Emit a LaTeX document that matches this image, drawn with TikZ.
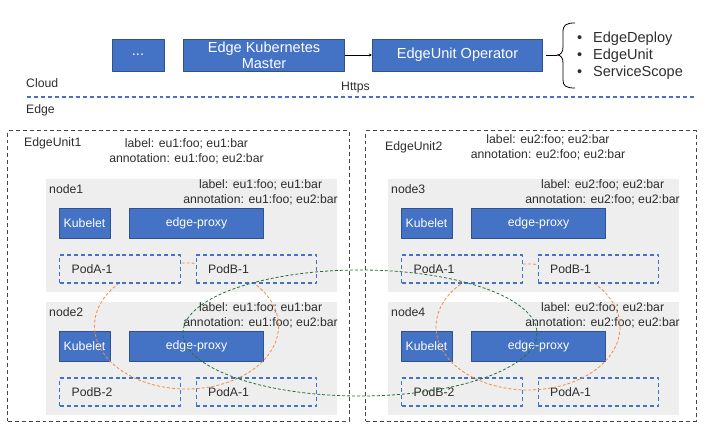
\documentclass[tikz,border=0pt]{standalone}
\usepackage{fontspec}
\setmainfont{Liberation Sans}
\usetikzlibrary{arrows.meta}
\pgfdeclarelayer{bg}
\pgfsetlayers{bg,main}
\definecolor{boxblue}{RGB}{68,114,196}
\definecolor{boxline}{RGB}{47,82,143}
\definecolor{hostgray}{RGB}{238,238,238}
\definecolor{txtgray}{RGB}{45,45,45}
\definecolor{linkorange}{RGB}{240,140,70}
\definecolor{linkgreen}{RGB}{40,110,55}
\definecolor{unitgray}{RGB}{70,70,70}
% one edge host: name, x, y (top left corner), first pod, second pod, label, annotation
\newcommand{\edgehost}[7]{%
  \begin{pgfonlayer}{bg}
  \node[host] (#1) at (#2+146.5,#3+56.5) {};
  \end{pgfonlayer}
  \node[txt,anchor=west] (#1-name) at (#2+4,#3+10) {#1};
  \node[txt,anchor=east,align=center] (#1-meta) at (#2+293,#3+13) {label: #6\\annotation: #7};
  \node[bluebox,minimum width=51,minimum height=30] (#1-kubelet) at (#2+39.5,#3+44) {Kubelet};
  \node[bluebox,minimum width=135,minimum height=30] (#1-proxy) at (#2+151.5,#3+44) {edge-proxy};
  \node[pod] (#1-poda) at (#2+75,#3+90) {#4};
  \node[pod] (#1-podb) at (#2+211.5,#3+90) {#5};
}
\begin{document}
\begin{tikzpicture}[x=1bp,y=-1bp,line join=round,>=Stealth,
  font=\fontsize{12.3}{15}\selectfont,text=txtgray,
  txt/.style={inner sep=0pt},
  bluebox/.style={draw=boxline,line width=0.8pt,fill=boxblue,text=white,inner sep=0pt},
  master/.style={bluebox,minimum height=32,align=center,font=\fontsize{14.6}{16}\selectfont},
  host/.style={fill=hostgray,minimum width=293,minimum height=113,inner sep=0pt},
  pod/.style={draw=boxblue,line width=1.2pt,dash pattern=on 4pt off 3pt,fill=hostgray,
    minimum height=28,text width=97,inner xsep=12pt,align=left},
  eubox/.style={draw=unitgray,line width=1.3pt,dash pattern=on 4pt off 3pt,inner sep=0pt},
  group/.style={line width=0.8pt,dash pattern=on 3pt off 2pt}]
\useasboundingbox (0,0) rectangle (720,442);

% cloud side
\node[master,minimum width=52] (dots) at (138,55) {...};
\node[master,minimum width=162] (master) at (264,55) {Edge Kubernetes\\Master};
\node[master,minimum width=171] (operator) at (457.5,55) {EdgeUnit Operator};
\draw[->,line width=0.8pt,>={Stealth[length=3pt,width=3pt]}] (master) -- (operator);
\coordinate (tip) at (557,55);
\draw[line width=0.8pt] (575,23) .. controls (566,23) and (563,25) .. (563,32) -- (563,47)
  .. controls (563,52) and (561,55) .. (tip) .. controls (561,55) and (563,58) .. (563,63)
  -- (563,80) .. controls (563,86) and (566,88) .. (575,88);
\draw[line width=0.8pt] ([xshift=3pt]operator.east) -- (tip);
\node[txt,anchor=west,align=left,font=\fontsize{14.6}{17}\selectfont] (crds) at (577,56)
  {\makebox[16pt][l]{\textbullet}EdgeDeploy\\\makebox[16pt][l]{\textbullet}EdgeUnit\\\makebox[16pt][l]{\textbullet}ServiceScope};
\node[txt,anchor=west] (cloud) at (26,83) {Cloud};
\node[txt] (https) at (355.5,88) {Https};
\draw[boxblue,line width=1.2pt,dash pattern=on 4pt off 3pt] (27,97) -- (696,97);
\node[txt,anchor=west] (edge) at (26,110) {Edge};

% edge units
\node[eubox,minimum width=343,minimum height=292] (eu1) at (178.5,276) {};
\node[eubox,minimum width=332,minimum height=292] (eu2) at (531,276) {};
\node[txt,anchor=west] (eu1-name) at (24,143) {EdgeUnit1};
\node[txt,align=center] (eu1-meta) at (186.5,151.5) {label: eu1:foo; eu1:bar\\annotation: eu1:foo; eu2:bar};
\node[txt,anchor=west] (eu2-name) at (385,147) {EdgeUnit2};
\node[txt,align=center] (eu2-meta) at (548,147) {label: eu2:foo; eu2:bar\\annotation: eu2:foo; eu2:bar};

\edgehost{node2}{45}{302}{PodB-2}{PodA-1}{eu1:foo; eu1:bar}{eu1:foo; eu2:bar}
\edgehost{node4}{387}{302}{PodB-2}{PodA-1}{eu2:foo; eu2:bar}{eu2:foo; eu2:bar}
\draw[group,linkorange] (186.5,326) ellipse [x radius=92,y radius=63];
\draw[group,linkorange] (528,327) ellipse [x radius=92,y radius=63];
\edgehost{node1}{45}{179}{PodA-1}{PodB-1}{eu1:foo; eu1:bar}{eu1:foo; eu2:bar}
\edgehost{node3}{387}{179}{PodA-1}{PodB-1}{eu2:foo; eu2:bar}{eu2:foo; eu2:bar}
\draw[group,linkgreen] (360,333) ellipse [x radius=177,y radius=63];
\end{tikzpicture}
\end{document}
